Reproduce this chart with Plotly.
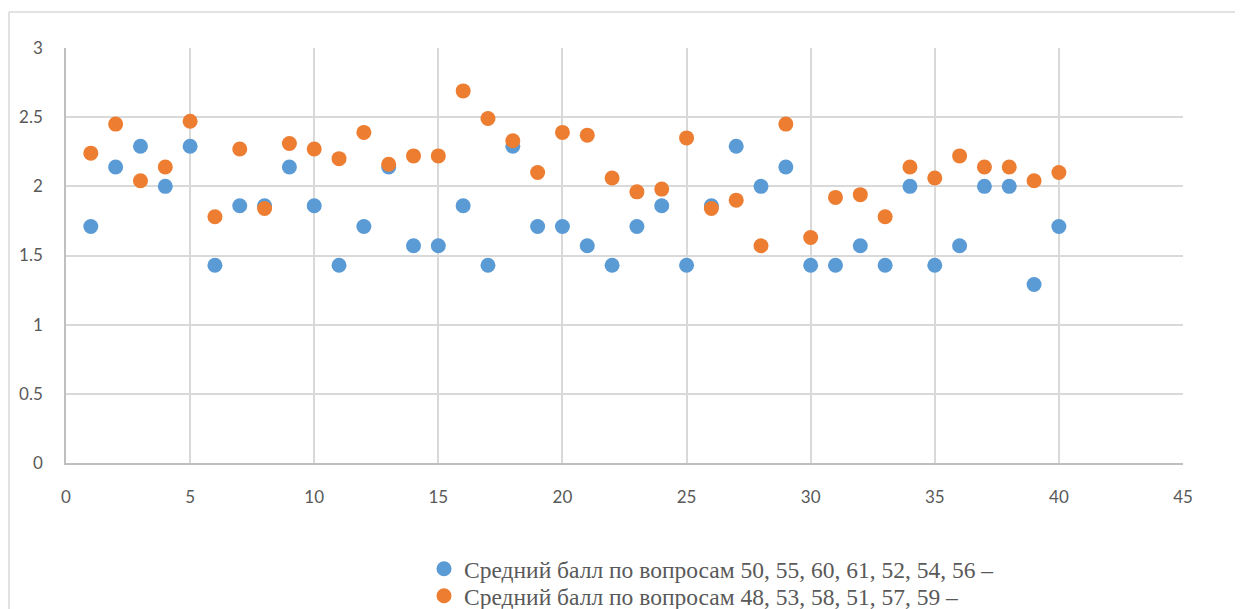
import plotly.graph_objects as go

question_no = list(range(1, 41))

series_blue_name = "Средний балл по вопросам 50, 55, 60, 61, 52, 54, 56 –"
series_blue = [1.71, 2.14, 2.29, 2.00, 2.29, 1.43, 1.86, 1.86, 2.14, 1.86,
               1.43, 1.71, 2.14, 1.57, 1.57, 1.86, 1.43, 2.29, 1.71, 1.71,
               1.57, 1.43, 1.71, 1.86, 1.43, 1.86, 2.29, 2.00, 2.14, 1.43,
               1.43, 1.57, 1.43, 2.00, 1.43, 1.57, 2.00, 2.00, 1.29, 1.71]

series_orange_name = "Средний балл по вопросам 48, 53, 58, 51, 57, 59 –"
series_orange = [2.24, 2.45, 2.04, 2.14, 2.47, 1.78, 2.27, 1.84, 2.31, 2.27,
                 2.20, 2.39, 2.16, 2.22, 2.22, 2.69, 2.49, 2.33, 2.10, 2.39,
                 2.37, 2.06, 1.96, 1.98, 2.35, 1.84, 1.90, 1.57, 2.45, 1.63,
                 1.92, 1.94, 1.78, 2.14, 2.06, 2.22, 2.14, 2.14, 2.04, 2.10]

x_ticks = [0, 5, 10, 15, 20, 25, 30, 35, 40, 45]
y_ticks = [0, 0.5, 1, 1.5, 2, 2.5, 3]
y_tick_labels = ["0", "0.5", "1", "1.5", "2", "2.5", "3"]

# page geometry (screen pixels); the html body has an 8px margin
W, H = 1243, 609
OFF = 8
L, R, T, B = 66, 1183, 48, 463

fig = go.Figure()
fig.add_trace(go.Scatter(x=question_no, y=series_blue, mode="markers",
                         name=series_blue_name, legend="legend",
                         marker=dict(color="#5B9BD5", size=15)))
fig.add_trace(go.Scatter(x=question_no, y=series_orange, mode="markers",
                         name=series_orange_name, legend="legend2",
                         marker=dict(color="#ED7D31", size=15)))

tickfont = dict(family="Lato, Carlito, sans-serif", size=17, color="#595959")
fig.update_xaxes(range=[0, 45], tickvals=x_ticks, showgrid=True,
                 gridcolor="#D9D9D9", gridwidth=1.5, zeroline=False,
                 showline=True, linecolor="#BFBFBF", linewidth=1.5,
                 ticks="", tickfont=tickfont, ticklabelstandoff=18,
                 automargin=False)
fig.update_yaxes(range=[0, 3], tickvals=y_ticks, ticktext=y_tick_labels,
                 showgrid=True, gridcolor="#D9D9D9", gridwidth=1.5,
                 zeroline=False, showline=True, linecolor="#BFBFBF",
                 linewidth=1.5, ticks="", tickfont=tickfont,
                 ticklabelstandoff=18, automargin=False)

pw, ph = R - L, B - T
def px_x(p):
    return (p - L) / pw
def px_y(p):
    return (B - p) / ph

# outer chart border (left and top edges visible)
fig.add_shape(type="line", xref="paper", yref="paper",
              x0=px_x(9), x1=px_x(1260), y0=px_y(12), y1=px_y(12),
              line=dict(color="#D9D9D9", width=1.5))
fig.add_shape(type="line", xref="paper", yref="paper",
              x0=px_x(9), x1=px_x(9), y0=px_y(12), y1=px_y(630),
              line=dict(color="#D9D9D9", width=1.5))

legfont = dict(family="Liberation Serif, Times New Roman, serif",
               size=23.5, color="#595959")
fig.update_layout(
    width=W - OFF, height=H - OFF,
    margin=dict(l=L - OFF, r=W - R, t=T - OFF, b=H - B, pad=0,
                autoexpand=False),
    plot_bgcolor="white", paper_bgcolor="white",
    showlegend=True,
    legend=dict(x=px_x(424), y=px_y(569), xanchor="left", yanchor="middle",
                font=legfont, itemwidth=30, bgcolor="rgba(0,0,0,0)"),
    legend2=dict(x=px_x(424), y=px_y(596), xanchor="left", yanchor="middle",
                 font=legfont, itemwidth=30, bgcolor="rgba(0,0,0,0)"),
)

fig.write_html("out.html")
